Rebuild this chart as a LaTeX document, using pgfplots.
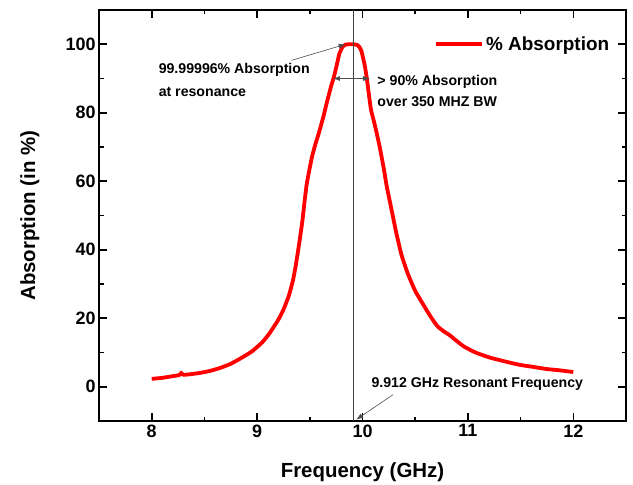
\documentclass[border=0pt]{standalone}
\usepackage{fontspec}
\setmainfont{Liberation Sans}
\usepackage{pgfplots}
\pgfplotsset{compat=1.18}
\usetikzlibrary{arrows.meta}

\begin{document}
\begin{tikzpicture}
\begin{axis}[
  scale only axis, width=527bp, height=411bp,
  xmin=7.5, xmax=12.5, ymin=-10, ymax=110,
  xtick={8,9,10,11,12}, ytick={0,20,40,60,80,100},
  minor x tick num=1, minor y tick num=1,
  tick align=inside, tick pos=both, ticklabel pos=left,
  major tick length=8bp, minor tick length=4.5bp,
  axis line style={line width=2bp},
  tick style={line width=1.6bp, black},
  /pgf/number format/assume math mode=true,
  tick label style={font=\bfseries\fontsize{18}{18}\selectfont},
  xlabel={Frequency (GHz)}, ylabel={Absorption (in \%)},
  label style={font=\bfseries\fontsize{20.5}{20.5}\selectfont},
  xlabel style={at={(axis description cs:0.5,-0.124)}, anchor=center},
  ylabel style={at={(axis description cs:-0.131,0.5)}, anchor=center},
  clip=false,
  legend style={at={(axis cs:10.68,100)}, anchor=west, draw=none, fill=none,
    font=\bfseries\fontsize{19}{19}\selectfont, inner sep=0pt},
  legend cell align=left,
  legend image code/.code={\draw[#1, line width=3.8bp] (0bp,0bp) -- (46bp,0bp);},
]
\addplot[red, line width=3.8bp, smooth, tension=0.3] table {
8.00 2.3
8.10 2.6
8.20 3.1
8.26 3.4
8.28 4.0
8.30 3.5
8.35 3.6
8.45 4.0
8.55 4.6
8.65 5.5
8.75 6.7
8.85 8.4
8.95 10.3
9.05 13.0
9.12 15.7
9.20 19.5
9.25 22.5
9.30 26.5
9.34 31
9.37 36
9.40 42
9.43 48.5
9.45 54
9.47 59
9.49 62.4
9.52 67
9.55 70.5
9.59 74.5
9.63 79
9.66 82.8
9.70 87.5
9.73 90.6
9.76 94.5
9.78 97.2
9.81 99.2
9.84 99.9
9.88 100
9.912 100
9.95 99.8
9.97 99.2
9.99 98.0
10.02 94
10.04 90.3
10.06 85.5
10.08 81
10.12 76
10.16 70.5
10.20 64
10.23 58.5
10.26 54
10.29 49.5
10.32 45
10.37 38.5
10.43 33
10.50 28
10.59 23.3
10.65 20.3
10.71 17.7
10.77 16.2
10.83 15.0
10.88 13.7
10.96 11.8
11.02 10.8
11.08 9.9
11.21 8.5
11.35 7.4
11.49 6.4
11.62 5.8
11.74 5.2
11.87 4.8
12.00 4.3
};
\addlegendentry{\% Absorption}

\draw[line width=0.8bp, black!75] (axis cs:9.912,-10) -- (axis cs:9.912,110);
\draw[line width=0.6bp, black!70, -{Latex[length=7bp,width=5bp]}] (axis cs:9.327,95.3) -- (axis cs:9.84,100);
\draw[line width=0.6bp, black!70, {Latex[length=7bp,width=5bp]}-{Latex[length=7bp,width=5bp]}] (axis cs:9.72,90) -- (axis cs:10.07,90);
\draw[line width=0.6bp, black!70, -{Latex[length=7bp,width=5bp]}] (axis cs:10.29,-2.3) -- (axis cs:9.94,-9.6);

\node[anchor=west, inner sep=0pt, font=\bfseries\fontsize{14.2}{14.2}\selectfont] at (axis cs:8.065,92.4) {99.99996\% Absorption};
\node[anchor=west, inner sep=0pt, font=\bfseries\fontsize{14.2}{14.2}\selectfont] at (axis cs:8.065,86) {at resonance};
\node[anchor=west, inner sep=0pt, font=\bfseries\fontsize{14.2}{14.2}\selectfont] at (axis cs:10.14,88.9) {> 90\% Absorption};
\node[anchor=west, inner sep=0pt, font=\bfseries\fontsize{14.2}{14.2}\selectfont] at (axis cs:10.14,83.1) {over 350 MHZ BW};
\node[anchor=west, inner sep=0pt, font=\bfseries\fontsize{14.2}{14.2}\selectfont] at (axis cs:10.084,0.9) {9.912 GHz Resonant Frequency};
\end{axis}
\pgfresetboundingbox
\path ([shift={(-99bp,-63bp)}]current axis.south west) rectangle ([shift={(7bp,10bp)}]current axis.north east);
\end{tikzpicture}
\end{document}
